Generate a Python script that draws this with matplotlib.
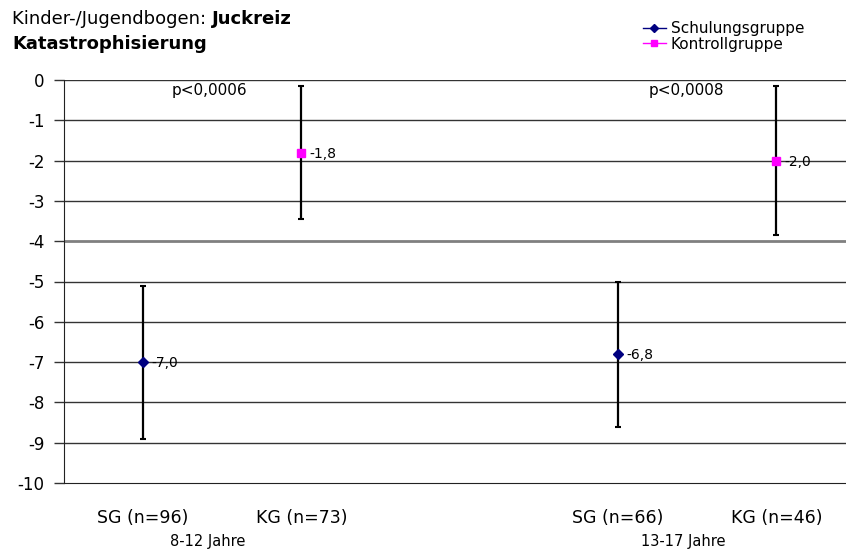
import matplotlib
matplotlib.use("Agg")
import matplotlib.pyplot as plt
from matplotlib.lines import Line2D

plt.rcParams['font.family'] = ['DejaVu Sans']

# data
groups = ["SG (n=96)", "KG (n=73)", "", "SG (n=66)", "KG (n=46)"]
age_labels = ["8-12 Jahre", "13-17 Jahre"]
p_labels = ["p<0,0006", "p<0,0008"]
sg_pos = [0, 3]
kg_pos = [1, 4]
sg_mean = [-7.0, -6.8]
sg_err = [1.9, 1.8]
kg_mean = [-1.8, -2.0]
kg_err = [1.65, 1.85]

fig = plt.figure(figsize=(8.46, 5.49), dpi=100)
ax = fig.add_axes([64 / 846, 1 - 483 / 549, 1 - 64 / 846, (483 - 80) / 549])

ax.set_ylim(-10, 0)
ax.set_xlim(-0.5, 4.44)
ax.set_yticks(range(-10, 1))
ax.set_yticklabels([str(v) for v in range(-10, 1)])
ax.set_xticks(range(len(groups)))
ax.set_xticklabels(groups)
ax.tick_params(axis='x', length=0, pad=19, labelsize=12.5)
ax.tick_params(axis='y', length=7, width=1, labelsize=12, pad=7, color='#333333')

for s in ['top', 'right']:
    ax.spines[s].set_visible(False)
ax.spines['left'].set_color('#222222')
ax.spines['bottom'].set_color('#222222')

for v in range(-9, 1):
    if v == -4:
        ax.axhline(v, color='#808080', lw=2, zorder=1)
    else:
        ax.axhline(v, color='#333333', lw=1, zorder=1)

ax.errorbar(sg_pos, sg_mean, yerr=sg_err, fmt='D', color='#000080', ms=5.5,
            ecolor='black', elinewidth=1.6, capsize=2.5, capthick=1.5, zorder=3)
ax.errorbar(kg_pos, kg_mean, yerr=kg_err, fmt='s', color='#FF00FF', ms=6,
            ecolor='black', elinewidth=1.6, capsize=2.5, capthick=1.5, zorder=3)

for x, y in zip(sg_pos + kg_pos, sg_mean + kg_mean):
    ax.annotate(f"{y:.1f}".replace('.', ','), (x, y), xytext=(6, -1),
                textcoords='offset points', va='center', ha='left', fontsize=10)

for x, t in zip([0.42, 3.43], p_labels):
    ax.text(x, -0.25, t, ha='center', va='center', fontsize=11)

for x, t in zip([0.41, 3.41], age_labels):
    ax.annotate(t, (x, -10), xytext=(0, -42), textcoords='offset points',
                xycoords='data', ha='center', va='center', fontsize=10.5,
                annotation_clip=False)

# title
t1 = fig.text(12 / 846, 1 - 19 / 549, "Kinder-/Jugendbogen: ", fontsize=13,
              va='center', ha='left')
fig.canvas.draw()
bb = t1.get_window_extent()
fig.text(bb.x1 / 846, 1 - 19 / 549, "Juckreiz", fontsize=13,
         fontweight='bold', va='center', ha='left')
fig.text(12 / 846, 1 - 44 / 549, "Katastrophisierung", fontsize=13,
         fontweight='bold', va='center', ha='left')

handles = [Line2D([], [], color='#000080', marker='D', ms=4, lw=1),
           Line2D([], [], color='#FF00FF', marker='s', ms=5, lw=1)]
fig.legend(handles, ['Schulungsgruppe', 'Kontrollgruppe'], loc='upper left',
           bbox_to_anchor=(643 / 846, 1 - 21 / 549),
           frameon=False, fontsize=11, handlelength=1.5, handletextpad=0.3,
           labelspacing=0.05, borderpad=0, borderaxespad=0)

fig.savefig("out.png", dpi=100)
